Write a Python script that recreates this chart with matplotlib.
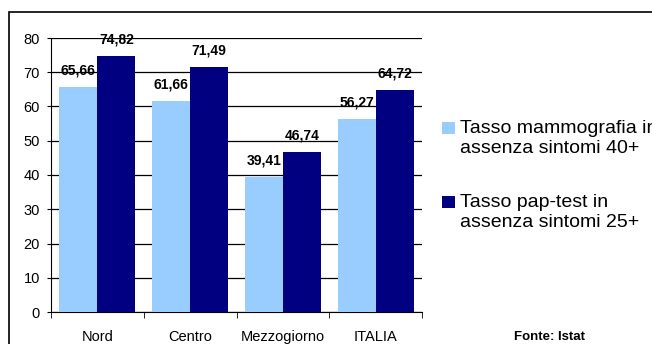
import numpy as np
import matplotlib.pyplot as plt
from matplotlib.patches import Rectangle

plt.rcParams['font.family'] = ['Liberation Sans', 'DejaVu Sans']

# Data
categories = ['Nord', 'Centro', 'Mezzogiorno', 'ITALIA']
mammografia = [65.66, 61.66, 39.41, 56.27]
pap_test = [74.82, 71.49, 46.74, 64.72]
labels = ['Tasso mammografia in\nassenza sintomi 40+',
          'Tasso pap-test in\nassenza sintomi 25+']

light = '#99CCFF'
dark = '#000080'
W, H = 652, 344

fig = plt.figure(figsize=(W / 100, H / 100), dpi=100)

# outer chart frame (cut off at right/bottom)
fig.patches.append(Rectangle((9 / W, -0.1), 1.0, 1 - 12 / H + 0.1,
                             transform=fig.transFigure, fill=False,
                             edgecolor='black', linewidth=1.2))

ax = fig.add_axes([51 / W, 32 / H, (422 - 51) / W, (312 - 38) / H])

x = np.arange(len(categories))
w = 0.41
b1 = ax.bar(x - w / 2, mammografia, w, color=light, label=labels[0], zorder=3)
b2 = ax.bar(x + w / 2, pap_test, w, color=dark, label=labels[1], zorder=3)

for bars in (b1, b2):
    for r in bars:
        v = r.get_height()
        ax.text(r.get_x() + r.get_width() / 2, v + 2.8, f'{v:.2f}'.replace('.', ','),
                ha='center', va='bottom', fontsize=10, fontweight='bold', zorder=4)

ax.set_xlim(-0.5, len(categories) - 0.5)
ax.set_ylim(0, 80)
ax.set_yticks(range(0, 81, 10))
ax.yaxis.grid(True, color='black', linewidth=0.9, zorder=0)
ax.set_axisbelow(True)

ax.set_xticks(x)
ax.set_xticklabels(categories, fontsize=10.5)
ax.set_xticks(np.arange(-0.5, len(categories)), minor=True)
ax.tick_params(axis='x', which='major', length=0, pad=13)
ax.tick_params(axis='x', which='minor', length=4, direction='out')
ax.tick_params(axis='y', labelsize=10.5, length=3, direction='out', pad=5)

for s in ('top', 'right'):
    ax.spines[s].set_visible(False)

# legend, drawn by hand so the swatch sits on the first text line
for (bars, lab, top) in ((b1, labels[0], 120), (b2, labels[1], 194)):
    fig.patches.append(Rectangle((442 / W, 1 - (top + 14) / H), 13 / W, 12 / H,
                                 transform=fig.transFigure,
                                 facecolor=bars[0].get_facecolor(), edgecolor='none'))
    fig.text(460 / W, 1 - top / H, lab, ha='left', va='top',
             fontsize=14, linespacing=1.2)

fig.text(550 / W, 1 - 337 / H, 'Fonte: Istat', ha='center', va='center',
         fontsize=9.5, fontweight='bold')

fig.savefig('out.png', dpi=100)
